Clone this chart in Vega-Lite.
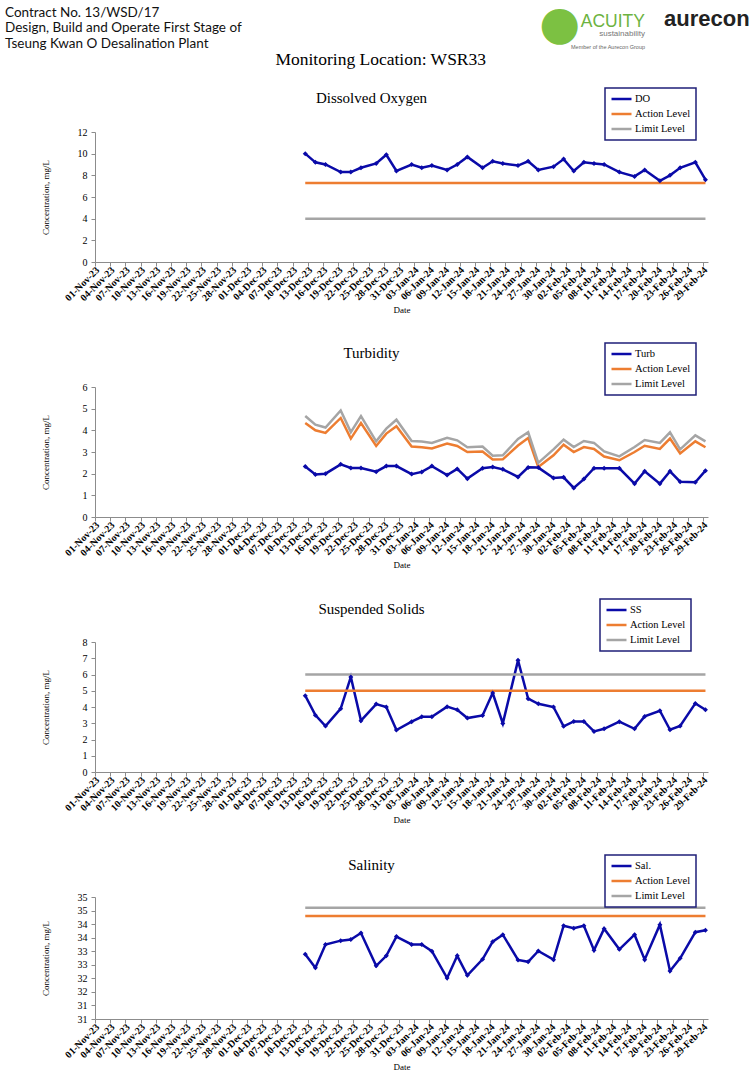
{
  "$schema": "https://vega.github.io/schema/vega-lite/v6.json",
  "background": "white",
  "padding": {"left": 5, "top": 1, "right": 0, "bottom": 0},
  "spacing": -3,
  "config": {
    "view": {"stroke": null},
    "font": "Liberation Serif",
    "axis": {"grid": false, "labelFont": "Liberation Serif", "titleFont": "Liberation Serif", "titleFontWeight": "normal", "labelColor": "#000", "titleColor": "#000", "domainColor": "#8c8c8c", "tickColor": "#8c8c8c"},
    "title": {"font": "Liberation Serif", "fontWeight": "normal", "color": "#000"}
  },
  "datasets": {
    "do": [
      {"date": "2023-12-12", "DO": 10.0, "Action Level": 7.3, "Limit Level": 4},
      {"date": "2023-12-14", "DO": 9.2, "Action Level": 7.3, "Limit Level": 4},
      {"date": "2023-12-16", "DO": 9.0, "Action Level": 7.3, "Limit Level": 4},
      {"date": "2023-12-19", "DO": 8.3, "Action Level": 7.3, "Limit Level": 4},
      {"date": "2023-12-21", "DO": 8.3, "Action Level": 7.3, "Limit Level": 4},
      {"date": "2023-12-23", "DO": 8.7, "Action Level": 7.3, "Limit Level": 4},
      {"date": "2023-12-26", "DO": 9.1, "Action Level": 7.3, "Limit Level": 4},
      {"date": "2023-12-28", "DO": 9.9, "Action Level": 7.3, "Limit Level": 4},
      {"date": "2023-12-30", "DO": 8.4, "Action Level": 7.3, "Limit Level": 4},
      {"date": "2024-01-02", "DO": 9.0, "Action Level": 7.3, "Limit Level": 4},
      {"date": "2024-01-04", "DO": 8.7, "Action Level": 7.3, "Limit Level": 4},
      {"date": "2024-01-06", "DO": 8.9, "Action Level": 7.3, "Limit Level": 4},
      {"date": "2024-01-09", "DO": 8.5, "Action Level": 7.3, "Limit Level": 4},
      {"date": "2024-01-11", "DO": 9.0, "Action Level": 7.3, "Limit Level": 4},
      {"date": "2024-01-13", "DO": 9.7, "Action Level": 7.3, "Limit Level": 4},
      {"date": "2024-01-16", "DO": 8.7, "Action Level": 7.3, "Limit Level": 4},
      {"date": "2024-01-18", "DO": 9.3, "Action Level": 7.3, "Limit Level": 4},
      {"date": "2024-01-20", "DO": 9.1, "Action Level": 7.3, "Limit Level": 4},
      {"date": "2024-01-23", "DO": 8.9, "Action Level": 7.3, "Limit Level": 4},
      {"date": "2024-01-25", "DO": 9.3, "Action Level": 7.3, "Limit Level": 4},
      {"date": "2024-01-27", "DO": 8.5, "Action Level": 7.3, "Limit Level": 4},
      {"date": "2024-01-30", "DO": 8.8, "Action Level": 7.3, "Limit Level": 4},
      {"date": "2024-02-01", "DO": 9.5, "Action Level": 7.3, "Limit Level": 4},
      {"date": "2024-02-03", "DO": 8.4, "Action Level": 7.3, "Limit Level": 4},
      {"date": "2024-02-05", "DO": 9.2, "Action Level": 7.3, "Limit Level": 4},
      {"date": "2024-02-07", "DO": 9.1, "Action Level": 7.3, "Limit Level": 4},
      {"date": "2024-02-09", "DO": 9.0, "Action Level": 7.3, "Limit Level": 4},
      {"date": "2024-02-12", "DO": 8.3, "Action Level": 7.3, "Limit Level": 4},
      {"date": "2024-02-15", "DO": 7.9, "Action Level": 7.3, "Limit Level": 4},
      {"date": "2024-02-17", "DO": 8.5, "Action Level": 7.3, "Limit Level": 4},
      {"date": "2024-02-20", "DO": 7.5, "Action Level": 7.3, "Limit Level": 4},
      {"date": "2024-02-22", "DO": 8.0, "Action Level": 7.3, "Limit Level": 4},
      {"date": "2024-02-24", "DO": 8.7, "Action Level": 7.3, "Limit Level": 4},
      {"date": "2024-02-27", "DO": 9.2, "Action Level": 7.3, "Limit Level": 4},
      {"date": "2024-02-29", "DO": 7.6, "Action Level": 7.3, "Limit Level": 4}
    ],
    "turb": [
      {"date": "2023-12-12", "Turb": 2.33, "Action Level": 4.34, "Limit Level": 4.66},
      {"date": "2023-12-14", "Turb": 1.96, "Action Level": 4.00, "Limit Level": 4.26},
      {"date": "2023-12-16", "Turb": 2.00, "Action Level": 3.88, "Limit Level": 4.13},
      {"date": "2023-12-19", "Turb": 2.43, "Action Level": 4.57, "Limit Level": 4.92},
      {"date": "2023-12-21", "Turb": 2.26, "Action Level": 3.62, "Limit Level": 3.92},
      {"date": "2023-12-23", "Turb": 2.26, "Action Level": 4.34, "Limit Level": 4.66},
      {"date": "2023-12-26", "Turb": 2.09, "Action Level": 3.28, "Limit Level": 3.49},
      {"date": "2023-12-28", "Turb": 2.35, "Action Level": 3.85, "Limit Level": 4.08},
      {"date": "2023-12-30", "Turb": 2.35, "Action Level": 4.19, "Limit Level": 4.49},
      {"date": "2024-01-02", "Turb": 1.98, "Action Level": 3.25, "Limit Level": 3.51},
      {"date": "2024-01-04", "Turb": 2.08, "Action Level": 3.22, "Limit Level": 3.48},
      {"date": "2024-01-06", "Turb": 2.35, "Action Level": 3.16, "Limit Level": 3.42},
      {"date": "2024-01-09", "Turb": 1.94, "Action Level": 3.39, "Limit Level": 3.66},
      {"date": "2024-01-11", "Turb": 2.22, "Action Level": 3.28, "Limit Level": 3.54},
      {"date": "2024-01-13", "Turb": 1.77, "Action Level": 3.00, "Limit Level": 3.22},
      {"date": "2024-01-16", "Turb": 2.25, "Action Level": 3.02, "Limit Level": 3.25},
      {"date": "2024-01-18", "Turb": 2.31, "Action Level": 2.65, "Limit Level": 2.83},
      {"date": "2024-01-20", "Turb": 2.20, "Action Level": 2.66, "Limit Level": 2.85},
      {"date": "2024-01-23", "Turb": 1.85, "Action Level": 3.30, "Limit Level": 3.60},
      {"date": "2024-01-25", "Turb": 2.29, "Action Level": 3.65, "Limit Level": 3.91},
      {"date": "2024-01-27", "Turb": 2.28, "Action Level": 2.31, "Limit Level": 2.50},
      {"date": "2024-01-30", "Turb": 1.80, "Action Level": 2.85, "Limit Level": 3.12},
      {"date": "2024-02-01", "Turb": 1.83, "Action Level": 3.34, "Limit Level": 3.57},
      {"date": "2024-02-03", "Turb": 1.34, "Action Level": 3.00, "Limit Level": 3.23},
      {"date": "2024-02-05", "Turb": 1.75, "Action Level": 3.23, "Limit Level": 3.51},
      {"date": "2024-02-07", "Turb": 2.25, "Action Level": 3.14, "Limit Level": 3.42},
      {"date": "2024-02-09", "Turb": 2.25, "Action Level": 2.79, "Limit Level": 3.03},
      {"date": "2024-02-12", "Turb": 2.25, "Action Level": 2.62, "Limit Level": 2.80},
      {"date": "2024-02-15", "Turb": 1.54, "Action Level": 3.00, "Limit Level": 3.23},
      {"date": "2024-02-17", "Turb": 2.11, "Action Level": 3.29, "Limit Level": 3.55},
      {"date": "2024-02-20", "Turb": 1.54, "Action Level": 3.14, "Limit Level": 3.42},
      {"date": "2024-02-22", "Turb": 2.11, "Action Level": 3.62, "Limit Level": 3.91},
      {"date": "2024-02-24", "Turb": 1.63, "Action Level": 2.93, "Limit Level": 3.12},
      {"date": "2024-02-27", "Turb": 1.60, "Action Level": 3.49, "Limit Level": 3.77},
      {"date": "2024-02-29", "Turb": 2.14, "Action Level": 3.22, "Limit Level": 3.49}
    ],
    "ss": [
      {"date": "2023-12-12", "SS": 4.70, "Action Level": 5, "Limit Level": 6},
      {"date": "2023-12-14", "SS": 3.50, "Action Level": 5, "Limit Level": 6},
      {"date": "2023-12-16", "SS": 2.83, "Action Level": 5, "Limit Level": 6},
      {"date": "2023-12-19", "SS": 3.90, "Action Level": 5, "Limit Level": 6},
      {"date": "2023-12-21", "SS": 5.85, "Action Level": 5, "Limit Level": 6},
      {"date": "2023-12-23", "SS": 3.16, "Action Level": 5, "Limit Level": 6},
      {"date": "2023-12-26", "SS": 4.18, "Action Level": 5, "Limit Level": 6},
      {"date": "2023-12-28", "SS": 4.00, "Action Level": 5, "Limit Level": 6},
      {"date": "2023-12-30", "SS": 2.58, "Action Level": 5, "Limit Level": 6},
      {"date": "2024-01-02", "SS": 3.10, "Action Level": 5, "Limit Level": 6},
      {"date": "2024-01-04", "SS": 3.40, "Action Level": 5, "Limit Level": 6},
      {"date": "2024-01-06", "SS": 3.40, "Action Level": 5, "Limit Level": 6},
      {"date": "2024-01-09", "SS": 4.02, "Action Level": 5, "Limit Level": 6},
      {"date": "2024-01-11", "SS": 3.83, "Action Level": 5, "Limit Level": 6},
      {"date": "2024-01-13", "SS": 3.32, "Action Level": 5, "Limit Level": 6},
      {"date": "2024-01-16", "SS": 3.48, "Action Level": 5, "Limit Level": 6},
      {"date": "2024-01-18", "SS": 4.86, "Action Level": 5, "Limit Level": 6},
      {"date": "2024-01-20", "SS": 2.99, "Action Level": 5, "Limit Level": 6},
      {"date": "2024-01-23", "SS": 6.87, "Action Level": 5, "Limit Level": 6},
      {"date": "2024-01-25", "SS": 4.51, "Action Level": 5, "Limit Level": 6},
      {"date": "2024-01-27", "SS": 4.20, "Action Level": 5, "Limit Level": 6},
      {"date": "2024-01-30", "SS": 4.00, "Action Level": 5, "Limit Level": 6},
      {"date": "2024-02-01", "SS": 2.81, "Action Level": 5, "Limit Level": 6},
      {"date": "2024-02-03", "SS": 3.11, "Action Level": 5, "Limit Level": 6},
      {"date": "2024-02-05", "SS": 3.11, "Action Level": 5, "Limit Level": 6},
      {"date": "2024-02-07", "SS": 2.50, "Action Level": 5, "Limit Level": 6},
      {"date": "2024-02-09", "SS": 2.66, "Action Level": 5, "Limit Level": 6},
      {"date": "2024-02-12", "SS": 3.10, "Action Level": 5, "Limit Level": 6},
      {"date": "2024-02-15", "SS": 2.66, "Action Level": 5, "Limit Level": 6},
      {"date": "2024-02-17", "SS": 3.42, "Action Level": 5, "Limit Level": 6},
      {"date": "2024-02-20", "SS": 3.77, "Action Level": 5, "Limit Level": 6},
      {"date": "2024-02-22", "SS": 2.60, "Action Level": 5, "Limit Level": 6},
      {"date": "2024-02-24", "SS": 2.83, "Action Level": 5, "Limit Level": 6},
      {"date": "2024-02-27", "SS": 4.22, "Action Level": 5, "Limit Level": 6},
      {"date": "2024-02-29", "SS": 3.83, "Action Level": 5, "Limit Level": 6}
    ],
    "sal": [
      {"date": "2023-12-12", "Sal": 32.89, "Action Level": 34.3, "Limit Level": 34.6},
      {"date": "2023-12-14", "Sal": 32.39, "Action Level": 34.3, "Limit Level": 34.6},
      {"date": "2023-12-16", "Sal": 33.25, "Action Level": 34.3, "Limit Level": 34.6},
      {"date": "2023-12-19", "Sal": 33.39, "Action Level": 34.3, "Limit Level": 34.6},
      {"date": "2023-12-21", "Sal": 33.43, "Action Level": 34.3, "Limit Level": 34.6},
      {"date": "2023-12-23", "Sal": 33.67, "Action Level": 34.3, "Limit Level": 34.6},
      {"date": "2023-12-26", "Sal": 32.46, "Action Level": 34.3, "Limit Level": 34.6},
      {"date": "2023-12-28", "Sal": 32.83, "Action Level": 34.3, "Limit Level": 34.6},
      {"date": "2023-12-30", "Sal": 33.54, "Action Level": 34.3, "Limit Level": 34.6},
      {"date": "2024-01-02", "Sal": 33.25, "Action Level": 34.3, "Limit Level": 34.6},
      {"date": "2024-01-04", "Sal": 33.25, "Action Level": 34.3, "Limit Level": 34.6},
      {"date": "2024-01-06", "Sal": 33.00, "Action Level": 34.3, "Limit Level": 34.6},
      {"date": "2024-01-09", "Sal": 32.01, "Action Level": 34.3, "Limit Level": 34.6},
      {"date": "2024-01-11", "Sal": 32.83, "Action Level": 34.3, "Limit Level": 34.6},
      {"date": "2024-01-13", "Sal": 32.11, "Action Level": 34.3, "Limit Level": 34.6},
      {"date": "2024-01-16", "Sal": 32.70, "Action Level": 34.3, "Limit Level": 34.6},
      {"date": "2024-01-18", "Sal": 33.35, "Action Level": 34.3, "Limit Level": 34.6},
      {"date": "2024-01-20", "Sal": 33.61, "Action Level": 34.3, "Limit Level": 34.6},
      {"date": "2024-01-23", "Sal": 32.68, "Action Level": 34.3, "Limit Level": 34.6},
      {"date": "2024-01-25", "Sal": 32.61, "Action Level": 34.3, "Limit Level": 34.6},
      {"date": "2024-01-27", "Sal": 33.01, "Action Level": 34.3, "Limit Level": 34.6},
      {"date": "2024-01-30", "Sal": 32.69, "Action Level": 34.3, "Limit Level": 34.6},
      {"date": "2024-02-01", "Sal": 33.94, "Action Level": 34.3, "Limit Level": 34.6},
      {"date": "2024-02-03", "Sal": 33.85, "Action Level": 34.3, "Limit Level": 34.6},
      {"date": "2024-02-05", "Sal": 33.94, "Action Level": 34.3, "Limit Level": 34.6},
      {"date": "2024-02-07", "Sal": 33.04, "Action Level": 34.3, "Limit Level": 34.6},
      {"date": "2024-02-09", "Sal": 33.83, "Action Level": 34.3, "Limit Level": 34.6},
      {"date": "2024-02-12", "Sal": 33.07, "Action Level": 34.3, "Limit Level": 34.6},
      {"date": "2024-02-15", "Sal": 33.61, "Action Level": 34.3, "Limit Level": 34.6},
      {"date": "2024-02-17", "Sal": 32.69, "Action Level": 34.3, "Limit Level": 34.6},
      {"date": "2024-02-20", "Sal": 33.98, "Action Level": 34.3, "Limit Level": 34.6},
      {"date": "2024-02-22", "Sal": 32.27, "Action Level": 34.3, "Limit Level": 34.6},
      {"date": "2024-02-24", "Sal": 32.74, "Action Level": 34.3, "Limit Level": 34.6},
      {"date": "2024-02-27", "Sal": 33.70, "Action Level": 34.3, "Limit Level": 34.6},
      {"date": "2024-02-29", "Sal": 33.77, "Action Level": 34.3, "Limit Level": 34.6}
    ]
  },
  "vconcat": [
    {
      "spacing": 0,
      "bounds": "flush",
      "hconcat": [
        {"width": 444, "height": 1, "data": {"values": []}, "mark": "text",
         "title": {"text": ["Contract No. 13/WSD/17", "Design, Build and Operate First Stage of", "Tseung Kwan O Desalination Plant"], "anchor": "start", "frame": "group", "dx": -90, "dy": -2, "offset": 0, "font": "Lato", "fontSize": 13.5, "lineHeight": 15.5, "fontWeight": "normal", "color": "#111"}},
        {"width": 40, "height": 1, "data": {"values": []}, "mark": "text",
         "title": {"text": "●", "anchor": "start", "frame": "group", "offset": 3, "dx": 0, "limit": 0, "font": "DejaVu Sans", "fontSize": 47, "color": "#7CC142"}},
        {"width": 66, "height": 1, "data": {"values": []}, "mark": "text",
         "title": {"text": "ACUITY", "anchor": "end", "frame": "group", "offset": 14, "font": "Liberation Sans", "fontSize": 17.5, "color": "#6DB33F", "subtitle": "sustainability", "subtitleFont": "Liberation Sans", "subtitleFontSize": 8, "subtitleColor": "#777", "subtitlePadding": 0}},
        {"width": 1, "height": 1, "data": {"values": []}, "mark": "text",
         "title": {"text": "Member of the Aurecon Group", "anchor": "end", "frame": "group", "dx": -1, "offset": 2, "limit": 0, "font": "Liberation Sans", "fontSize": 5.5, "color": "#666"}},
        {"width": 90, "height": 1, "data": {"values": []}, "mark": "text",
         "title": {"text": "aurecon", "anchor": "start", "frame": "group", "dx": 18, "offset": 21, "font": "Liberation Sans", "fontSize": 22, "fontWeight": "bold", "color": "#222"}}
      ]
    },
    {
      "spacing": 125,
      "bounds": "flush",
      "title": {"text": "Monitoring Location: WSR33", "fontSize": 17.5, "anchor": "middle", "frame": "bounds", "dx": 5, "offset": 19},
      "resolve": {"scale": {"color": "independent", "y": "independent", "x": "independent"}, "legend": {"color": "independent"}},
      "vconcat": [
        {
          "width": 613, "height": 130,
          "title": {"text": "Dissolved Oxygen", "fontSize": 15, "frame": "group", "anchor": "middle", "dx": -30, "offset": -19},
          "data": {"name": "do"},
          "transform": [{"fold": ["DO", "Action Level", "Limit Level"], "as": ["series", "value"]}],
          "encoding": {
            "x": {"field": "date", "type": "temporal", "scale": {"type": "utc", "domain": [1698753600000, 1709208000000]},
                  "axis": {"title": "Date", "values": [1698796800000,1699056000000,1699315200000,1699574400000,1699833600000,1700092800000,1700352000000,1700611200000,1700870400000,1701129600000,1701388800000,1701648000000,1701907200000,1702166400000,1702425600000,1702684800000,1702944000000,1703203200000,1703462400000,1703721600000,1703980800000,1704240000000,1704499200000,1704758400000,1705017600000,1705276800000,1705536000000,1705795200000,1706054400000,1706313600000,1706572800000,1706832000000,1707091200000,1707350400000,1707609600000,1707868800000,1708128000000,1708387200000,1708646400000,1708905600000,1709164800000],
                           "format": "%d-%b-%y", "labelAngle": -45, "labelAlign": "right", "labelBaseline": "middle", "labelFontWeight": "bold", "labelFontSize": 10, "labelOverlap": false, "labelBound": false, "labelFlush": false, "tickSize": 4, "tickOffset": -2.53, "labelOffset": 2.53, "labelPadding": 2, "titleFontSize": 9, "titlePadding": 3}},
            "y": {"field": "value", "type": "quantitative", "scale": {"domain": [0, 12], "nice": false},
                  "axis": {"title": "Concentration,  mg/L", "values": [0, 2, 4, 6, 8, 10, 12], "labelFontSize": 10, "titleFontSize": 9, "tickSize": 4, "labelPadding": 4, "titlePadding": 27}},
            "color": {"field": "series", "type": "nominal", "scale": {"domain": ["DO", "Action Level", "Limit Level"], "range": ["#0A0AA8", "#ED7D31", "#A5A5A5"]},
                      "legend": {"title": null, "orient": "none", "legendX": 510, "legendY": -44, "symbolType": "stroke", "symbolSize": 400, "symbolStrokeWidth": 2.5, "labelFont": "Liberation Serif", "labelFontSize": 10.5, "labelColor": "#000", "strokeColor": "#1F1F78", "fillColor": "white", "padding": 5, "rowPadding": 3, "clipHeight": 12, "labelOffset": 2, "encode": {"legend": {"update": {"strokeWidth": {"value": 1.5}}}}}}
          },
          "layer": [
            {"mark": {"type": "line", "strokeWidth": 2.5}},
            {"transform": [{"filter": "datum.series === 'DO'"}], "mark": {"type": "point", "shape": "diamond", "filled": true, "size": 25, "opacity": 1}}
          ]
        },
        {
          "width": 613, "height": 130,
          "title": {"text": "Turbidity", "fontSize": 15, "frame": "group", "anchor": "middle", "dx": -30, "offset": -19},
          "data": {"name": "turb"},
          "transform": [{"fold": ["Turb", "Action Level", "Limit Level"], "as": ["series", "value"]}],
          "encoding": {
            "x": {"field": "date", "type": "temporal", "scale": {"type": "utc", "domain": [1698753600000, 1709208000000]},
                  "axis": {"title": "Date", "values": [1698796800000,1699056000000,1699315200000,1699574400000,1699833600000,1700092800000,1700352000000,1700611200000,1700870400000,1701129600000,1701388800000,1701648000000,1701907200000,1702166400000,1702425600000,1702684800000,1702944000000,1703203200000,1703462400000,1703721600000,1703980800000,1704240000000,1704499200000,1704758400000,1705017600000,1705276800000,1705536000000,1705795200000,1706054400000,1706313600000,1706572800000,1706832000000,1707091200000,1707350400000,1707609600000,1707868800000,1708128000000,1708387200000,1708646400000,1708905600000,1709164800000],
                           "format": "%d-%b-%y", "labelAngle": -45, "labelAlign": "right", "labelBaseline": "middle", "labelFontWeight": "bold", "labelFontSize": 10, "labelOverlap": false, "labelBound": false, "labelFlush": false, "tickSize": 4, "tickOffset": -2.53, "labelOffset": 2.53, "labelPadding": 2, "titleFontSize": 9, "titlePadding": 3}},
            "y": {"field": "value", "type": "quantitative", "scale": {"domain": [0, 6], "nice": false},
                  "axis": {"title": "Concentration,  mg/L", "values": [0, 1, 2, 3, 4, 5, 6], "labelFontSize": 10, "titleFontSize": 9, "tickSize": 4, "labelPadding": 4, "titlePadding": 32}},
            "color": {"field": "series", "type": "nominal", "scale": {"domain": ["Turb", "Action Level", "Limit Level"], "range": ["#0A0AA8", "#ED7D31", "#A5A5A5"]},
                      "legend": {"title": null, "orient": "none", "legendX": 510, "legendY": -44, "symbolType": "stroke", "symbolSize": 400, "symbolStrokeWidth": 2.5, "labelFont": "Liberation Serif", "labelFontSize": 10.5, "labelColor": "#000", "strokeColor": "#1F1F78", "fillColor": "white", "padding": 5, "rowPadding": 3, "clipHeight": 12, "labelOffset": 2, "encode": {"legend": {"update": {"strokeWidth": {"value": 1.5}}}}}}
          },
          "layer": [
            {"mark": {"type": "line", "strokeWidth": 2.5}},
            {"transform": [{"filter": "datum.series === 'Turb'"}], "mark": {"type": "point", "shape": "diamond", "filled": true, "size": 25, "opacity": 1}}
          ]
        },
        {
          "width": 613, "height": 130,
          "title": {"text": "Suspended Solids", "fontSize": 15, "frame": "group", "anchor": "middle", "dx": -30, "offset": -19},
          "data": {"name": "ss"},
          "transform": [{"fold": ["SS", "Action Level", "Limit Level"], "as": ["series", "value"]}],
          "encoding": {
            "x": {"field": "date", "type": "temporal", "scale": {"type": "utc", "domain": [1698753600000, 1709208000000]},
                  "axis": {"title": "Date", "values": [1698796800000,1699056000000,1699315200000,1699574400000,1699833600000,1700092800000,1700352000000,1700611200000,1700870400000,1701129600000,1701388800000,1701648000000,1701907200000,1702166400000,1702425600000,1702684800000,1702944000000,1703203200000,1703462400000,1703721600000,1703980800000,1704240000000,1704499200000,1704758400000,1705017600000,1705276800000,1705536000000,1705795200000,1706054400000,1706313600000,1706572800000,1706832000000,1707091200000,1707350400000,1707609600000,1707868800000,1708128000000,1708387200000,1708646400000,1708905600000,1709164800000],
                           "format": "%d-%b-%y", "labelAngle": -45, "labelAlign": "right", "labelBaseline": "middle", "labelFontWeight": "bold", "labelFontSize": 10, "labelOverlap": false, "labelBound": false, "labelFlush": false, "tickSize": 4, "tickOffset": -2.53, "labelOffset": 2.53, "labelPadding": 2, "titleFontSize": 9, "titlePadding": 3}},
            "y": {"field": "value", "type": "quantitative", "scale": {"domain": [0, 8], "nice": false},
                  "axis": {"title": "Concentration,  mg/L", "values": [0, 1, 2, 3, 4, 5, 6, 7, 8], "labelFontSize": 10, "titleFontSize": 9, "tickSize": 4, "labelPadding": 4, "titlePadding": 32}},
            "color": {"field": "series", "type": "nominal", "scale": {"domain": ["SS", "Action Level", "Limit Level"], "range": ["#0A0AA8", "#ED7D31", "#A5A5A5"]},
                      "legend": {"title": null, "orient": "none", "legendX": 505, "legendY": -43, "symbolType": "stroke", "symbolSize": 400, "symbolStrokeWidth": 2.5, "labelFont": "Liberation Serif", "labelFontSize": 10.5, "labelColor": "#000", "strokeColor": "#1F1F78", "fillColor": "white", "padding": 5, "rowPadding": 3, "clipHeight": 12, "labelOffset": 2, "encode": {"legend": {"update": {"strokeWidth": {"value": 1.5}}}}}}
          },
          "layer": [
            {"mark": {"type": "line", "strokeWidth": 2.5}},
            {"transform": [{"filter": "datum.series === 'SS'"}], "mark": {"type": "point", "shape": "diamond", "filled": true, "size": 25, "opacity": 1}}
          ]
        },
        {
          "width": 613, "height": 122,
          "title": {"text": "Salinity", "fontSize": 15, "frame": "group", "anchor": "middle", "dx": -30, "offset": -19},
          "data": {"name": "sal"},
          "transform": [{"fold": ["Sal", "Action Level", "Limit Level"], "as": ["series", "value"]}],
          "encoding": {
            "x": {"field": "date", "type": "temporal", "scale": {"type": "utc", "domain": [1698753600000, 1709208000000]},
                  "axis": {"title": "Date", "values": [1698796800000,1699056000000,1699315200000,1699574400000,1699833600000,1700092800000,1700352000000,1700611200000,1700870400000,1701129600000,1701388800000,1701648000000,1701907200000,1702166400000,1702425600000,1702684800000,1702944000000,1703203200000,1703462400000,1703721600000,1703980800000,1704240000000,1704499200000,1704758400000,1705017600000,1705276800000,1705536000000,1705795200000,1706054400000,1706313600000,1706572800000,1706832000000,1707091200000,1707350400000,1707609600000,1707868800000,1708128000000,1708387200000,1708646400000,1708905600000,1709164800000],
                           "format": "%d-%b-%y", "labelAngle": -45, "labelAlign": "right", "labelBaseline": "middle", "labelFontWeight": "bold", "labelFontSize": 10, "labelOverlap": false, "labelBound": false, "labelFlush": false, "tickSize": 4, "tickOffset": -2.53, "labelOffset": 2.53, "labelPadding": 2, "titleFontSize": 9, "titlePadding": 3}},
            "y": {"field": "value", "type": "quantitative", "scale": {"domain": [30.5, 35], "nice": false, "zero": false},
                  "axis": {"title": "Concentration,  mg/L", "values": [30.5, 31, 31.5, 32, 32.5, 33, 33.5, 34, 34.5, 35], "format": ".0f", "labelFontSize": 10, "titleFontSize": 9, "tickSize": 4, "labelPadding": 4, "titlePadding": 27}},
            "color": {"field": "series", "type": "nominal", "scale": {"domain": ["Sal", "Action Level", "Limit Level"], "range": ["#0A0AA8", "#ED7D31", "#A5A5A5"]},
                      "legend": {"title": null, "orient": "none", "legendX": 510, "legendY": -42, "labelExpr": "datum.label === 'Sal' ? 'Sal.' : datum.label", "symbolType": "stroke", "symbolSize": 400, "symbolStrokeWidth": 2.5, "labelFont": "Liberation Serif", "labelFontSize": 10.5, "labelColor": "#000", "strokeColor": "#1F1F78", "fillColor": "white", "padding": 5, "rowPadding": 3, "clipHeight": 12, "labelOffset": 2, "encode": {"legend": {"update": {"strokeWidth": {"value": 1.5}}}}}}
          },
          "layer": [
            {"mark": {"type": "line", "strokeWidth": 2.5}},
            {"transform": [{"filter": "datum.series === 'Sal'"}], "mark": {"type": "point", "shape": "diamond", "filled": true, "size": 25, "opacity": 1}}
          ]
        }
      ]
    }
  ]
}
